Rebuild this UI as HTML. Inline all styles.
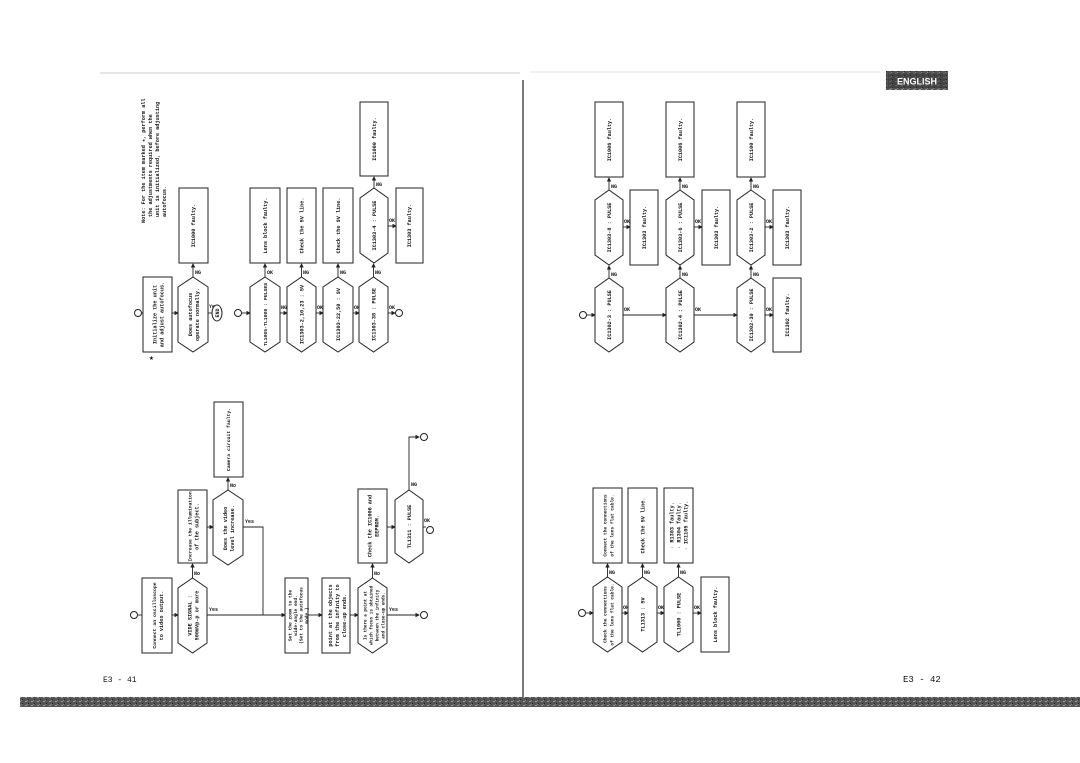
<!DOCTYPE html>
<html><head><meta charset="utf-8"><style>
html,body{margin:0;padding:0;background:#fff;}
svg{display:block;}
text{font-family:"Liberation Mono",monospace;font-size:5.2px;fill:#111;font-weight:bold;}
.l{font-size:5px;}
.shape{fill:#fff;stroke:#222;stroke-width:1;}
.ln{stroke:#222;stroke-width:0.9;fill:none;}
</style></head><body>
<svg width="1080" height="763" viewBox="0 0 1080 763" xmlns="http://www.w3.org/2000/svg">
<defs>
<marker id="a" markerWidth="5" markerHeight="5" refX="4" refY="2.5" orient="auto"><path d="M0,0 L5,2.5 L0,5z" fill="#222"/></marker>
<pattern id="noise" width="6" height="4" patternUnits="userSpaceOnUse"><rect width="6" height="4" fill="#555"/><rect x="1" y="1" width="2" height="1" fill="#999"/><rect x="4" y="3" width="1" height="1" fill="#222"/><rect x="3" y="0" width="1" height="1" fill="#888"/></pattern>
</defs>

<line x1="100" y1="73" x2="520" y2="73" stroke="#bbb" stroke-width="0.8"/>
<line x1="530" y1="72" x2="880" y2="72" stroke="#ccc" stroke-width="0.6"/>
<line x1="523" y1="80" x2="523" y2="698" stroke="#222" stroke-width="1.2"/>
<rect x="20" y="697" width="1060" height="10" fill="url(#noise)"/>
<text x="103" y="682" style="font-size:8px;font-weight:normal">E3 - 41</text>
<text x="903" y="682" style="font-size:9px;font-weight:normal">E3 - 42</text>
<rect x="886" y="71" width="62" height="19" fill="url(#noise)"/>
<rect x="888" y="73" width="58" height="15" fill="#333" opacity="0.5"/>
<text x="917" y="84.5" text-anchor="middle" style="font-family:'Liberation Sans',sans-serif;font-size:9px;fill:#fff">ENGLISH</text>

<!-- LEFT TOP -->
<g transform="translate(145,223) rotate(-90)"><text x="0" y="0">Note: For the item marked ★, perform all</text><text x="6" y="7">the adjustments required when the</text><text x="6" y="14">unit is initialized, before adjusting</text><text x="6" y="21">autofocus.</text></g>
<circle cx="138" cy="313" r="3.5" class="shape"/>
<line x1="142" y1="313" x2="143" y2="313" class="ln"/>
<rect x="143" y="277" width="29" height="75" class="shape"/>
<g transform="translate(157.5,314.5) rotate(-90)" text-anchor="middle"><text x="0" y="-1">Initialize the unit</text><text x="0" y="6">and adjust autofocus.</text></g>
<text x="149" y="360" style="font-size:8px">★</text>
<line x1="172" y1="313" x2="178" y2="313" class="ln" marker-end="url(#a)"/>
<polygon points="193,277 208,287 208,342 193,352 178,342 178,287" class="shape"/>
<g transform="translate(193,314.5) rotate(-90)" text-anchor="middle"><text x="0" y="-1">Does autofocus</text><text x="0" y="6">operate normally.</text></g>
<line x1="193" y1="277" x2="193" y2="264" class="ln" marker-end="url(#a)"/><text class="l" x="195" y="274">NG</text>
<rect x="179" y="188" width="29" height="75" class="shape"/>
<g transform="translate(195,225.5) rotate(-90)" text-anchor="middle"><text>IC1000 faulty.</text></g>
<line x1="208" y1="313" x2="212" y2="313" class="ln"/><text class="l" x="209" y="308">Yes</text>
<ellipse cx="217" cy="313" rx="5" ry="8" class="shape"/><g transform="translate(219,313) rotate(-90)" text-anchor="middle"><text class="l">END</text></g>

<circle cx="238" cy="313" r="3.5" class="shape"/>
<line x1="242" y1="313" x2="250" y2="313" class="ln" marker-end="url(#a)"/>
<polygon points="265,277 280,287 280,342 265,352 250,342 250,287" class="shape"/>
<g transform="translate(267,314.5) rotate(-90)" text-anchor="middle"><text style="font-size:4.8px">TL1005-TL1008 : PULSES</text></g>
<line x1="280" y1="313" x2="287" y2="313" class="ln" marker-end="url(#a)"/><text class="l" x="281" y="309">NG</text>
<polygon points="301.5,277 316,287 316,342 301.5,352 287,342 287,287" class="shape"/>
<g transform="translate(303.5,314.5) rotate(-90)" text-anchor="middle"><text>IC1303-2,10,23 : 5V</text></g>
<line x1="316" y1="313" x2="323" y2="313" class="ln" marker-end="url(#a)"/><text class="l" x="317" y="309">OK</text>
<polygon points="338,277 353,287 353,342 338,352 323,342 323,287" class="shape"/>
<g transform="translate(340,314.5) rotate(-90)" text-anchor="middle"><text>IC1303-22,50 : 9V</text></g>
<line x1="353" y1="313" x2="359" y2="313" class="ln" marker-end="url(#a)"/><text class="l" x="354" y="309">OK</text>
<polygon points="373.5,277 388,287 388,342 373.5,352 359,342 359,287" class="shape"/>
<g transform="translate(375.5,314.5) rotate(-90)" text-anchor="middle"><text>IC1303-38 : PULSE</text></g>
<line x1="388" y1="313" x2="395" y2="313" class="ln" marker-end="url(#a)"/><text class="l" x="389" y="309">OK</text>
<circle cx="399" cy="313" r="3.5" class="shape"/>
<line x1="265" y1="277" x2="265" y2="264" class="ln" marker-end="url(#a)"/><text class="l" x="267" y="274">OK</text>
<rect x="250" y="188" width="30" height="75" class="shape"/><g transform="translate(267,225.5) rotate(-90)" text-anchor="middle"><text>Lens block faulty.</text></g>
<line x1="301.5" y1="277" x2="301.5" y2="264" class="ln" marker-end="url(#a)"/><text class="l" x="303" y="274">NG</text>
<rect x="287" y="188" width="29" height="75" class="shape"/><g transform="translate(303.5,225.5) rotate(-90)" text-anchor="middle"><text>Check the 5V line.</text></g>
<line x1="338" y1="277" x2="338" y2="264" class="ln" marker-end="url(#a)"/><text class="l" x="340" y="274">NG</text>
<rect x="323" y="188" width="30" height="75" class="shape"/><g transform="translate(340,225.5) rotate(-90)" text-anchor="middle"><text>Check the 9V line.</text></g>
<line x1="373.5" y1="277" x2="373.5" y2="264" class="ln" marker-end="url(#a)"/><text class="l" x="375" y="274">NG</text>
<polygon points="374,188 388,198 388,253 374,263 360,253 360,198" class="shape"/>
<g transform="translate(376,225.5) rotate(-90)" text-anchor="middle"><text>IC1303-4 : PULSE</text></g>
<line x1="374" y1="188" x2="374" y2="177" class="ln" marker-end="url(#a)"/><text class="l" x="376" y="186">NG</text>
<rect x="360" y="102" width="28" height="74" class="shape"/><g transform="translate(376,139) rotate(-90)" text-anchor="middle"><text>IC1000 faulty.</text></g>
<line x1="388" y1="226" x2="396" y2="226" class="ln" marker-end="url(#a)"/><text class="l" x="389" y="222">OK</text>
<rect x="396" y="188" width="27" height="75" class="shape"/><g transform="translate(411,225.5) rotate(-90)" text-anchor="middle"><text>IC1303 faulty.</text></g>

<!-- LEFT BOTTOM -->
<circle cx="134" cy="615" r="3.5" class="shape"/>
<line x1="138" y1="615" x2="142" y2="615" class="ln"/>
<rect x="142" y="578" width="30" height="75" class="shape"/>
<g transform="translate(157,615.5) rotate(-90)" text-anchor="middle"><text x="0" y="-1" style="font-size:4.8px">Connect an oscilloscope</text><text x="0" y="6">to video output.</text></g>
<line x1="172" y1="615" x2="178" y2="615" class="ln" marker-end="url(#a)"/>
<polygon points="192.5,578 207,588 207,643 192.5,653 178,643 178,588" class="shape"/>
<g transform="translate(192.5,615.5) rotate(-90)" text-anchor="middle"><text x="0" y="-1">VIDE SIGNAL :</text><text x="0" y="6">500mVp-p or more</text></g>
<line x1="192.5" y1="578" x2="192.5" y2="564" class="ln" marker-end="url(#a)"/><text class="l" x="194" y="575">No</text>
<rect x="178" y="490" width="29" height="73" class="shape"/>
<g transform="translate(192.5,526.5) rotate(-90)" text-anchor="middle" style="font-size:4.7px"><text x="0" y="-1" style="font-size:4.7px">Increase the illumination</text><text x="0" y="6">of the subject.</text></g>
<line x1="207" y1="527" x2="213" y2="527" class="ln" marker-end="url(#a)"/>
<polygon points="228,490 243,500 243,555 228,565 213,555 213,500" class="shape"/>
<g transform="translate(228,528.5) rotate(-90)" text-anchor="middle"><text x="0" y="-1">Does the video</text><text x="0" y="6">level increase.</text></g>
<line x1="228" y1="490" x2="228" y2="478" class="ln" marker-end="url(#a)"/><text class="l" x="230" y="487">No</text>
<rect x="214" y="402" width="29" height="75" class="shape"/>
<g transform="translate(230,439.5) rotate(-90)" text-anchor="middle"><text style="font-size:4.8px">Camera circuit faulty.</text></g>
<polyline points="243,527 263,527 263,615" class="ln"/><text class="l" x="245" y="523">Yes</text>
<line x1="207" y1="615" x2="285" y2="615" class="ln" marker-end="url(#a)"/><text class="l" x="209" y="611">Yes</text>
<rect x="285" y="578" width="23" height="75" class="shape"/>
<g transform="translate(296.5,615.5) rotate(-90)" text-anchor="middle"><text x="0" y="-5" style="font-size:4.5px">Set the zoom to the</text><text x="0" y="0.5" style="font-size:4.5px">wide-angle end.</text><text x="0" y="6" style="font-size:4.5px">(Set to the autofocus</text><text x="0" y="11.5" style="font-size:4.5px">mode.)</text></g>
<line x1="308" y1="615" x2="322" y2="615" class="ln" marker-end="url(#a)"/>
<rect x="322" y="578" width="28" height="75" class="shape"/>
<g transform="translate(336,615.5) rotate(-90)" text-anchor="middle"><text x="0" y="-4">point at the objects</text><text x="0" y="3">from the infinity to</text><text x="0" y="10">close-up ends.</text></g>
<line x1="350" y1="615" x2="358" y2="615" class="ln" marker-end="url(#a)"/>
<polygon points="372.5,578 387,588 387,643 372.5,653 358,643 358,588" class="shape"/>
<g transform="translate(372.5,615.5) rotate(-90)" text-anchor="middle"><text x="0" y="-6" style="font-size:4.3px">Is there a point at</text><text x="0" y="0" style="font-size:4.3px">which focus is obtained</text><text x="0" y="6" style="font-size:4.3px">between the infinity</text><text x="0" y="12" style="font-size:4.3px">and close-up ends.</text></g>
<line x1="372.5" y1="578" x2="372.5" y2="564" class="ln" marker-end="url(#a)"/><text class="l" x="374" y="575">No</text>
<rect x="358" y="489" width="29" height="74" class="shape"/>
<g transform="translate(372.5,526) rotate(-90)" text-anchor="middle"><text x="0" y="-1">Check the IC1006 and</text><text x="0" y="6">EEPROM.</text></g>
<line x1="387" y1="527" x2="395" y2="527" class="ln" marker-end="url(#a)"/>
<polygon points="409,490 423,500 423,553 409,563 395,553 395,500" class="shape"/>
<g transform="translate(411,526.5) rotate(-90)" text-anchor="middle"><text>TL1311 : PULSE</text></g>
<polyline points="409,490 409,437 419,437" class="ln" marker-end="url(#a)"/><text class="l" x="411" y="486">NG</text>
<circle cx="424" cy="437" r="3.5" class="shape"/>
<line x1="423" y1="527" x2="426" y2="527" class="ln"/><text class="l" x="424" y="522">OK</text>
<circle cx="430" cy="530" r="3.5" class="shape"/>
<line x1="387" y1="615" x2="419" y2="615" class="ln" marker-end="url(#a)"/><text class="l" x="389" y="611">Yes</text>
<circle cx="424" cy="615" r="3.5" class="shape"/>

<!-- RIGHT TOP -->
<circle cx="583" cy="315" r="3.5" class="shape"/>
<line x1="587" y1="315" x2="595" y2="315" class="ln" marker-end="url(#a)"/>
<polygon points="609,278 623,288 623,342 609,352 595,342 595,288" class="shape"/>
<g transform="translate(611,315) rotate(-90)" text-anchor="middle"><text>IC1302-3 : PULSE</text></g>
<line x1="623" y1="315" x2="666" y2="315" class="ln" marker-end="url(#a)"/><text class="l" x="624" y="311">OK</text>
<polygon points="680,278 694,288 694,342 680,352 666,342 666,288" class="shape"/>
<g transform="translate(682,315) rotate(-90)" text-anchor="middle"><text>IC1302-4 : PULSE</text></g>
<line x1="694" y1="315" x2="737" y2="315" class="ln" marker-end="url(#a)"/><text class="l" x="695" y="311">OK</text>
<polygon points="751,278 765,288 765,342 751,352 737,342 737,288" class="shape"/>
<g transform="translate(753,315) rotate(-90)" text-anchor="middle"><text>IC1302-30 : PULSE</text></g>
<line x1="765" y1="315" x2="773" y2="315" class="ln" marker-end="url(#a)"/><text class="l" x="766" y="311">OK</text>
<rect x="773" y="278" width="28" height="74" class="shape"/><g transform="translate(789,315) rotate(-90)" text-anchor="middle"><text>IC1302 faulty.</text></g>
<g>
<line x1="609" y1="278" x2="609" y2="266" class="ln" marker-end="url(#a)"/><text class="l" x="611" y="276">NG</text>
<polygon points="609,190 623,200 623,255 609,265 595,255 595,200" class="shape"/>
<g transform="translate(611,227.5) rotate(-90)" text-anchor="middle"><text>IC1303-8 : PULSE</text></g>
<line x1="609" y1="190" x2="609" y2="178" class="ln" marker-end="url(#a)"/><text class="l" x="611" y="188">NG</text>
<rect x="595" y="102" width="28" height="75" class="shape"/><g transform="translate(611,139.5) rotate(-90)" text-anchor="middle"><text>IC1006 faulty.</text></g>
<line x1="623" y1="227" x2="630" y2="227" class="ln" marker-end="url(#a)"/><text class="l" x="624" y="223">OK</text>
<rect x="630" y="190" width="28" height="75" class="shape"/><g transform="translate(646,227.5) rotate(-90)" text-anchor="middle"><text>IC1303 faulty.</text></g>
</g>
<g>
<line x1="680" y1="278" x2="680" y2="266" class="ln" marker-end="url(#a)"/><text class="l" x="682" y="276">NG</text>
<polygon points="680,190 694,200 694,255 680,265 666,255 666,200" class="shape"/>
<g transform="translate(682,227.5) rotate(-90)" text-anchor="middle"><text>IC1303-6 : PULSE</text></g>
<line x1="680" y1="190" x2="680" y2="178" class="ln" marker-end="url(#a)"/><text class="l" x="682" y="188">NG</text>
<rect x="666" y="102" width="28" height="75" class="shape"/><g transform="translate(682,139.5) rotate(-90)" text-anchor="middle"><text>IC1006 faulty.</text></g>
<line x1="694" y1="227" x2="702" y2="227" class="ln" marker-end="url(#a)"/><text class="l" x="695" y="223">OK</text>
<rect x="702" y="190" width="28" height="75" class="shape"/><g transform="translate(718,227.5) rotate(-90)" text-anchor="middle"><text>IC1303 faulty.</text></g>
</g>
<g>
<line x1="751" y1="278" x2="751" y2="266" class="ln" marker-end="url(#a)"/><text class="l" x="753" y="276">NG</text>
<polygon points="751,190 765,200 765,255 751,265 737,255 737,200" class="shape"/>
<g transform="translate(753,227.5) rotate(-90)" text-anchor="middle"><text>IC1303-2 : PULSE</text></g>
<line x1="751" y1="190" x2="751" y2="178" class="ln" marker-end="url(#a)"/><text class="l" x="753" y="188">NG</text>
<rect x="737" y="102" width="28" height="75" class="shape"/><g transform="translate(753,139.5) rotate(-90)" text-anchor="middle"><text>IC1100 faulty.</text></g>
<line x1="765" y1="227" x2="773" y2="227" class="ln" marker-end="url(#a)"/><text class="l" x="766" y="223">OK</text>
<rect x="773" y="190" width="28" height="75" class="shape"/><g transform="translate(789,227.5) rotate(-90)" text-anchor="middle"><text>IC1303 faulty.</text></g>
</g>

<!-- RIGHT BOTTOM -->
<circle cx="582" cy="613" r="3.5" class="shape"/>
<line x1="586" y1="613" x2="593" y2="613" class="ln" marker-end="url(#a)"/>
<polygon points="607.5,577 622,587 622,642 607.5,652 593,642 593,587" class="shape"/>
<g transform="translate(607.5,614.5) rotate(-90)" text-anchor="middle"><text x="0" y="-1" style="font-size:4.5px">Check the connections</text><text x="0" y="6" style="font-size:4.5px">of the lens flat cable.</text></g>
<line x1="607.5" y1="577" x2="607.5" y2="564" class="ln" marker-end="url(#a)"/><text class="l" x="609" y="574">NG</text>
<rect x="593" y="488" width="29" height="75" class="shape"/>
<g transform="translate(607.5,525.5) rotate(-90)" text-anchor="middle"><text x="0" y="-1" style="font-size:4.5px">Connect the connections</text><text x="0" y="6" style="font-size:4.5px">of the lens flat cable.</text></g>
<line x1="622" y1="613" x2="628" y2="613" class="ln" marker-end="url(#a)"/><text class="l" x="623" y="609">OK</text>
<polygon points="642.5,577 657,587 657,642 642.5,652 628,642 628,587" class="shape"/>
<g transform="translate(644.5,614.5) rotate(-90)" text-anchor="middle"><text>TL1313 : 5V</text></g>
<line x1="642.5" y1="577" x2="642.5" y2="564" class="ln" marker-end="url(#a)"/><text class="l" x="644" y="574">NG</text>
<rect x="628" y="488" width="29" height="75" class="shape"/>
<g transform="translate(644.5,525.5) rotate(-90)" text-anchor="middle"><text>Check the 5V line.</text></g>
<line x1="657" y1="613" x2="664" y2="613" class="ln" marker-end="url(#a)"/><text class="l" x="658" y="609">OK</text>
<polygon points="678.5,577 693,587 693,642 678.5,652 664,642 664,587" class="shape"/>
<g transform="translate(680.5,614.5) rotate(-90)" text-anchor="middle"><text>TL1000 : PULSE</text></g>
<line x1="678.5" y1="577" x2="678.5" y2="564" class="ln" marker-end="url(#a)"/><text class="l" x="680" y="574">NG</text>
<rect x="664" y="488" width="29" height="75" class="shape"/>
<g transform="translate(678.5,525.5) rotate(-90)" text-anchor="middle"><text x="0" y="-5">· R1303 faulty.</text><text x="0" y="2">· R1304 faulty.</text><text x="0" y="9">· IC1105 faulty.</text></g>
<line x1="693" y1="613" x2="701" y2="613" class="ln" marker-end="url(#a)"/><text class="l" x="694" y="609">OK</text>
<rect x="701" y="577" width="28" height="75" class="shape"/>
<g transform="translate(717,614.5) rotate(-90)" text-anchor="middle"><text>Lens block faulty.</text></g>
</svg>
</body></html>
